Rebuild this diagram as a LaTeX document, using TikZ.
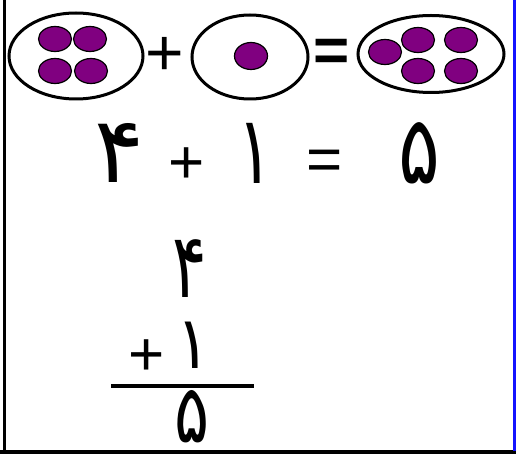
\documentclass[tikz,border=0pt]{standalone}
\usepackage{fontspec}
\usetikzlibrary{shapes.geometric}
\newfontfamily\arabicfont[Script=Arabic]{DejaVu Sans}
\newfontfamily\symfont{Liberation Sans}
\definecolor{dotpurple}{RGB}{128,0,128}
\definecolor{edgeblue}{RGB}{20,20,255}
\begin{document}
\begin{tikzpicture}[x=1pt,y=-1pt,
  grp/.style={ellipse, draw=black, line width=3pt, inner sep=0pt},
  dot/.style={ellipse, draw=black, line width=1.2pt, fill=dotpurple, inner sep=0pt, minimum width=33pt, minimum height=25pt},
  digit/.style={inner sep=0pt, font=\arabicfont\fontsize{60}{62}\selectfont},
  sym/.style={inner sep=0pt, font=\symfont\fontsize{62}{64}\selectfont},
  topsym/.style={inner sep=0pt, font=\symfont\fontsize{66}{68}\selectfont},
  topeq/.style={inner sep=0pt, font=\symfont\bfseries\fontsize{62}{64}\selectfont}]
\useasboundingbox (0,0) rectangle (516,454);
\fill[white] (0,0) rectangle (516,454);
% frame
\draw[line width=3pt] (4,0) -- (4,454);
\draw[line width=3.5pt] (0,452.2) -- (516,452.2);
\draw[edgeblue, line width=2.5pt] (514.5,0) -- (514.5,451);
% top row groups
\node[grp, minimum width=134pt, minimum height=86pt] (g1) at (76,56) {};
\node[grp, minimum width=116pt, minimum height=84pt] (g2) at (250,57) {};
\node[grp, minimum width=146pt, minimum height=77pt] (g3) at (431,54) {};
\node[dot] (a1) at (55,39) {};
\node[dot] (a2) at (90,39) {};
\node[dot] (a3) at (55,71) {};
\node[dot] (a4) at (91,71) {};
\node[dot, minimum height=27pt] (b1) at (251,56) {};
\node[dot] (c1) at (385,52) {};
\node[dot] (c2) at (418,40) {};
\node[dot] (c3) at (461,40) {};
\node[dot] (c4) at (418,71) {};
\node[dot] (c5) at (461,71) {};
\node[topsym] (tplus) at (165,56) {+};
\node[topeq] (teq) at (332,55) {=};
% equation row
\node[digit] (r4) at (119,153) {\scalebox{1.55}[1.53]{۴}};
\node[sym] (rplus) at (187,166) {+};
\node[digit] (r1) at (255,153) {\scalebox{1.1}[1.58]{۱}};
\node[sym] (req) at (325,165) {=};
\node[digit] (r5) at (419,153) {\scalebox{1.3}[1.58]{۵}};
% vertical sum
\node[digit] (v4) at (190,269) {\scalebox{1.07}[1.5]{۴}};
\node[digit] (v1) at (193,345) {\scalebox{1.05}[1.22]{۱}};
\node[sym] (vplus) at (147,358) {+};
\coordinate (bl) at (111,386);
\coordinate (br) at (254,386);
\draw[line width=3.5pt] (bl) -- (br);
\node[digit] (v5) at (192,417) {\scalebox{1.09}[1.35]{۵}};
\end{tikzpicture}
\end{document}
